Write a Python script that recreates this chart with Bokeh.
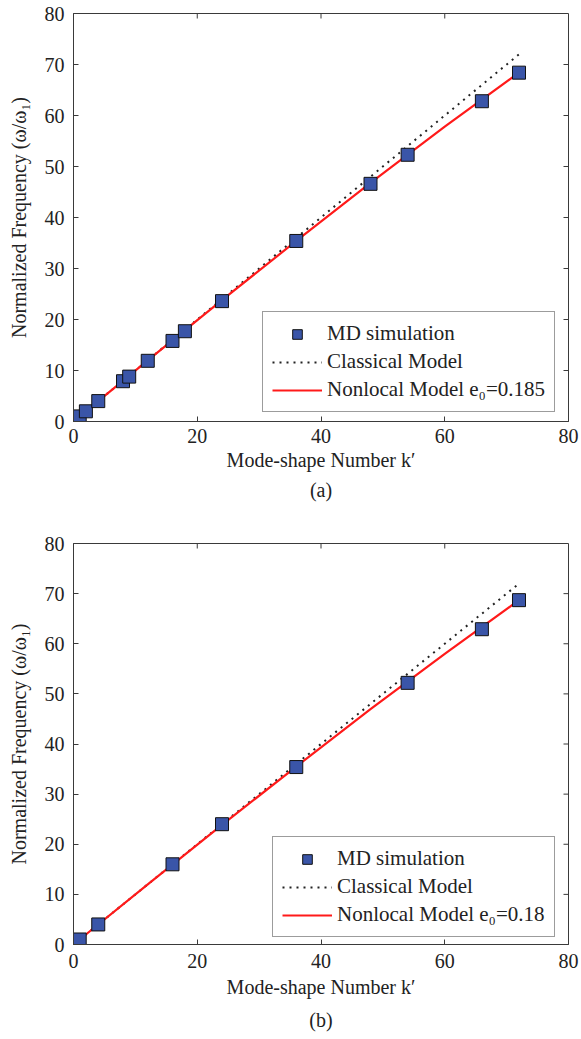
import math
from bokeh.plotting import figure
from bokeh.layouts import column
from bokeh.models import Range1d, Title, Legend, LegendItem, FixedTicker
from bokeh.embed import file_html
from bokeh.resources import INLINE

# ---- data ----
# panel (a)
a_md_k = [1, 2, 4, 8, 9, 12, 16, 18, 24, 36, 48, 54, 66, 72]
a_md_f = [1, 2, 4, 7.9, 8.8, 11.9, 15.8, 17.7, 23.6, 35.4, 46.6, 52.3, 62.8, 68.4]
a_cls_k = [1, 72]
a_cls_f = [1, 72]
a_nl_k = [1, 12, 24, 36, 48, 60, 72]
a_nl_f = [1, 11.98, 23.8, 35.4, 46.8, 57.8, 68.4]
a_nl_label = "Nonlocal Model e\u2080=0.185"

# panel (b)
b_md_k = [1, 4, 16, 24, 36, 54, 66, 72]
b_md_f = [1, 4, 16, 24, 35.4, 52.2, 62.9, 68.7]
b_cls_k = [1, 72]
b_cls_f = [1, 72]
b_nl_k = [1, 12, 24, 36, 48, 60, 72]
b_nl_f = [1, 11.99, 23.87, 35.5, 46.95, 58.0, 68.7]
b_nl_label = "Nonlocal Model e\u2080=0.18"

yticks = [0, 10, 20, 30, 40, 50, 60, 70, 80]
xticks = [0, 20, 40, 60, 80]
x_max = 80
y_max = 80

FONT = "Liberation Serif"
AX = "#3a3a3a"
TXT = "#222222"


def style_axis(ax):
    ax.axis_line_color = AX
    ax.major_tick_line_color = AX
    ax.major_tick_in = 5
    ax.major_tick_out = 0
    ax.minor_tick_line_color = None
    ax.major_label_text_font = FONT
    ax.major_label_text_color = TXT
    ax.major_label_text_font_size = "20px"
    ax.axis_label_text_font = FONT
    ax.axis_label_text_font_style = "normal"
    ax.axis_label_text_color = TXT
    ax.axis_label_text_font_size = "20px"


def make_panel(md_k, md_f, cls_k, cls_f, nl_k, nl_f, nl_label, caption,
               height, top, bottom, leg_loc, tick_sd, lab_sd, cap_sd):
    p = figure(width=581, height=height, output_backend="svg", toolbar_location=None,
               x_range=Range1d(0, x_max), y_range=Range1d(0, y_max),
               min_border_left=73, min_border_right=13,
               min_border_top=top, min_border_bottom=bottom)
    p.grid.visible = False
    p.outline_line_color = AX
    p.background_fill_color = "white"
    p.border_fill_color = "white"

    p.xaxis.ticker = FixedTicker(ticks=xticks)
    p.yaxis.ticker = FixedTicker(ticks=yticks)
    p.xaxis.axis_label = "Mode-shape Number k\u2032"
    p.yaxis.axis_label = "Normalized Frequency (\u03c9/\u03c9\u2081)"
    for ax in p.xaxis:
        style_axis(ax)
        ax.major_label_standoff = tick_sd
        ax.axis_label_standoff = lab_sd
    for ax in p.yaxis:
        style_axis(ax)
        ax.major_label_standoff = 9
        ax.axis_label_standoff = 12

    # inward ticks on the top and right edges of the box
    p.ray(x=xticks[1:-1], y=[y_max] * (len(xticks) - 2), length=5, length_units="screen",
          angle=-math.pi / 2, line_color=AX, line_width=1)
    p.ray(x=[x_max] * (len(yticks) - 2), y=yticks[1:-1], length=5, length_units="screen",
          angle=math.pi, line_color=AX, line_width=1)

    r_cls = p.line(cls_k, cls_f, line_color=TXT, line_width=2, line_dash="2 5")
    r_nl = p.line(nl_k, nl_f, line_color="#ff1a1a", line_width=2.2)
    r_md = p.scatter(md_k, md_f, marker="square", size=13, fill_color="#3a55a8",
                     line_color="#111111", line_width=1)

    legend = Legend(items=[LegendItem(label="MD simulation", renderers=[r_md]),
                           LegendItem(label="Classical Model", renderers=[r_cls]),
                           LegendItem(label=nl_label, renderers=[r_nl])],
                    location=leg_loc)
    legend.label_text_font = FONT
    legend.label_text_font_size = "21px"
    legend.label_text_color = TXT
    legend.glyph_width = 50
    legend.glyph_height = 24
    legend.label_height = 24
    legend.label_standoff = 5
    legend.spacing = 3
    legend.padding = 9
    legend.margin = 0
    legend.border_line_color = AX
    legend.border_line_width = 1
    legend.background_fill_alpha = 1
    p.add_layout(legend, "center")

    cap = Title(text=caption, align="center", text_font=FONT, text_font_size="20px",
                text_font_style="normal", text_color=TXT, standoff=cap_sd)
    p.add_layout(cap, "below")
    return p


pa = make_panel(a_md_k, a_md_f, a_cls_k, a_cls_f, a_nl_k, a_nl_f, a_nl_label, "(a)",
                510, 13, 89, (189, 9), 7, 3, 7)
pb = make_panel(b_md_k, b_md_f, b_cls_k, b_cls_f, b_nl_k, b_nl_f, b_nl_label, "(b)",
                529, 33, 95, (199, 7), 9, 5, 12)

layout = column(pa, pb, spacing=0)
open("out.html", "w").write(file_html(layout, INLINE))
